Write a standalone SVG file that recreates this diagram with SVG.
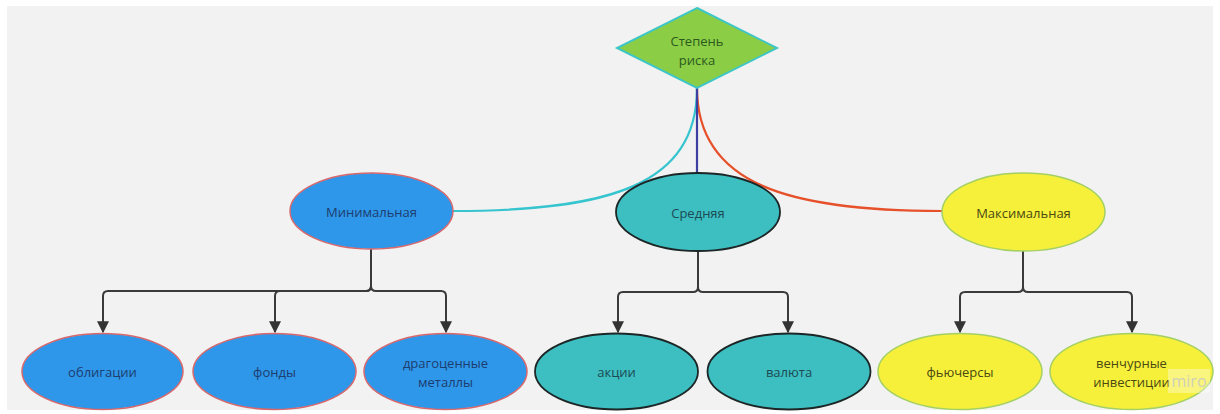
<svg xmlns="http://www.w3.org/2000/svg" width="1220" height="414" viewBox="0 0 1220 414">
<style>
text{font-family:"Open Sans","Noto Sans","DejaVu Sans",sans-serif;font-size:13px;text-anchor:middle;dominant-baseline:central}
.min ellipse{fill:#2f97ea;stroke:#d8686c;stroke-width:1.5}
.min text{fill:#1d3d6e}
.mid ellipse{fill:#3dbec1;stroke:#1c2626;stroke-width:1.8}
.mid text{fill:#1c4b54}
.max ellipse{fill:#f6f03b;stroke:#a3cf64;stroke-width:1.5}
.max text{fill:#4a4912}
.arr{fill:none;stroke:#3a3a3a;stroke-width:2}
</style>
<defs>
<marker id="ah" viewBox="0 0 10 10" refX="9" refY="5" markerWidth="6" markerHeight="6" orient="auto" markerUnits="strokeWidth">
<path d="M0,0 L10,5 L0,10 Z" fill="#333"/>
</marker>
</defs>
<rect x="0" y="0" width="1220" height="414" fill="#ffffff"/>
<rect x="7" y="6" width="1206" height="404" fill="#f2f2f2"/>
<g id="connectors">
<path d="M697,88 C697,185 610,211 453,211" fill="none" stroke="#36c4cf" stroke-width="2.2"/>
<path d="M697,88 C697,185 790,211 942,211" fill="none" stroke="#e6512b" stroke-width="2.2"/>
<path d="M697,88 V173" fill="none" stroke="#3d40a0" stroke-width="2.2"/>
<path class="arr" d="M371,249 V286 Q371,291 366,291 H108 Q103,291 103,296 V332" marker-end="url(#ah)"/>
<path class="arr" d="M371,286 Q371,291 366,291 H280 Q275,291 275,296 V332" marker-end="url(#ah)"/>
<path class="arr" d="M371,286 Q371,291 376,291 H441 Q446,291 446,296 V332" marker-end="url(#ah)"/>
<path class="arr" d="M698,251 V287 Q698,292 693,292 H623 Q618,292 618,297 V332" marker-end="url(#ah)"/>
<path class="arr" d="M698,287 Q698,292 703,292 H783 Q788,292 788,297 V332" marker-end="url(#ah)"/>
<path class="arr" d="M1023,251 V287 Q1023,292 1018,292 H965 Q960,292 960,297 V332" marker-end="url(#ah)"/>
<path class="arr" d="M1023,287 Q1023,292 1028,292 H1127 Q1132,292 1132,297 V332" marker-end="url(#ah)"/>
</g>
<g id="risk">
<polygon points="697,8 777,48 697,88 617,48" fill="#8ccd46" stroke="#3ec6c6" stroke-width="2"/>
<text x="697" y="41" fill="#2b5a1c">Степень</text>
<text x="697" y="60" fill="#2b5a1c">риска</text>
</g>
<g id="minimal" class="min"><ellipse cx="371.5" cy="211" rx="81.5" ry="38"/><text x="371.5" y="212">Минимальная</text></g>
<g id="medium" class="mid"><ellipse cx="698" cy="212" rx="82" ry="39"/><text x="698" y="213">Средняя</text></g>
<g id="maximal" class="max"><ellipse cx="1023.5" cy="212" rx="81.5" ry="39"/><text x="1023.5" y="213">Максимальная</text></g>
<g id="bonds" class="min"><ellipse cx="102.5" cy="371.5" rx="80.5" ry="38"/><text x="102.5" y="372">облигации</text></g>
<g id="funds" class="min"><ellipse cx="274.5" cy="371.5" rx="81.5" ry="38"/><text x="274.5" y="372">фонды</text></g>
<g id="metals" class="min"><ellipse cx="445.5" cy="371.5" rx="81.5" ry="38"/><text x="445.5" y="363">драгоценные</text><text x="445.5" y="382">металлы</text></g>
<g id="stocks" class="mid"><ellipse cx="616.5" cy="371.5" rx="81.5" ry="38"/><text x="616.5" y="372">акции</text></g>
<g id="currency" class="mid"><ellipse cx="789" cy="371.5" rx="81.5" ry="38"/><text x="789" y="372">валюта</text></g>
<g id="futures" class="max"><ellipse cx="960" cy="371.5" rx="82" ry="38"/><text x="960" y="372">фьючерсы</text></g>
<g id="venture" class="max"><ellipse cx="1131.5" cy="371.5" rx="81.5" ry="38"/><text x="1131.5" y="363">венчурные</text><text x="1131.5" y="382">инвестиции</text></g>
<g id="watermark"><rect x="1168" y="369" width="42" height="24" fill="#ffffff" opacity="0.35"/><text x="1189" y="381" fill="#c8c8c8" style="font-size:16px" opacity="0.8">miro</text></g>
</svg>
